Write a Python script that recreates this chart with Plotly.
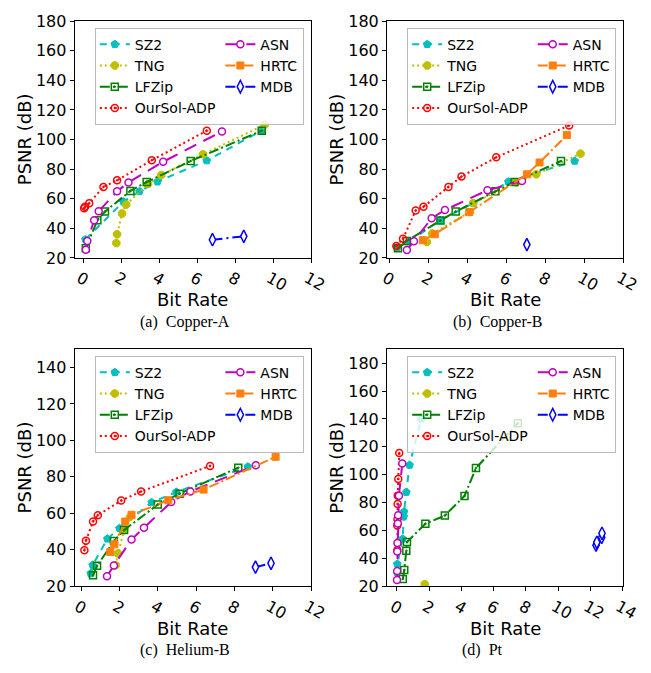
import plotly.graph_objects as go

# The page body has an 8px default margin, so the figure is drawn 8px in.
OFF = 8
W, H = 651 - OFF, 673 - OFF

# ---------------- data ----------------
# (a) Copper-A
a_sz2_x = [0.1, 2.1, 2.95, 3.9, 6.5, 9.4]
a_sz2_y = [32.5, 58, 65, 71.5, 85.8, 106]
a_tng_x = [1.73, 1.77, 2.03, 2.25, 3.4, 4.1, 6.3, 9.55]
a_tng_y = [30, 36, 50, 56, 70, 76, 90, 110]
a_lfz_x = [0.12, 0.73, 1.13, 2.47, 3.33, 5.65, 9.4]
a_lfz_y = [26.5, 45.5, 51.3, 65.3, 71.3, 85.5, 106]
a_our_x = [0.03, 0.08, 0.3, 1.05, 1.77, 3.6, 6.5]
a_our_y = [53.5, 54.5, 57, 68, 72.5, 86, 106]
a_asn_x = [0.12, 0.2, 0.56, 0.8, 1.77, 2.37, 4.2, 7.3]
a_asn_y = [25.5, 31.5, 45.5, 51.5, 65, 71, 85, 105.5]
a_hrtc_x = []
a_hrtc_y = []
a_mdb_x = [6.8, 8.45]
a_mdb_y = [32.3, 34.6]

# (b) Copper-B
b_sz2_x = [0.4, 1.0, 2.6, 4.3, 6.1, 9.5]
b_sz2_y = [27, 31, 45.5, 57, 71.5, 85.5]
b_tng_x = [1.92, 2.2, 4.13, 4.3, 6.5, 7.53, 9.8]
b_tng_y = [30.8, 36.5, 51, 57, 71, 76.5, 90.5]
b_lfz_x = [0.44, 0.9, 2.62, 3.4, 5.44, 6.42, 8.8]
b_lfz_y = [26.5, 31.5, 45.3, 51.3, 65, 71.3, 85.5]
b_our_x = [0.36, 0.7, 1.35, 1.75, 3.03, 3.7, 5.48, 9.22]
b_our_y = [28, 33, 52, 54.5, 68, 75, 88, 109.5]
b_asn_x = [0.9, 1.26, 2.17, 2.85, 5.03, 6.8]
b_asn_y = [25.3, 31.3, 46.8, 52.4, 65.7, 72]
b_hrtc_x = [1.72, 2.33, 4.1, 7.05, 7.7, 9.1]
b_hrtc_y = [32, 36, 51, 76.5, 84.5, 103]
b_mdb_x = [7.05]
b_mdb_y = [29]

# (c) Helium-B
c_sz2_x = [0.5, 0.6, 1.37, 2.0, 3.68, 4.97, 8.7]
c_sz2_y = [27, 31.6, 46, 51.8, 66, 71.7, 85.6]
c_tng_x = [1.8, 1.92, 2.25, 2.55]
c_tng_y = [31.5, 38, 51, 58]
c_lfz_x = [0.62, 0.83, 1.71, 2.24, 4.0, 5.14, 8.2]
c_lfz_y = [26, 31.2, 44.8, 50.8, 64.8, 70.8, 85]
c_our_x = [0.17, 0.25, 0.62, 0.87, 2.09, 3.13, 6.73]
c_our_y = [39.7, 45, 55.5, 59, 67, 72, 86]
c_asn_x = [1.35, 1.71, 2.63, 3.28, 4.7, 5.7, 9.12]
c_asn_y = [25.5, 31.4, 45.6, 52.1, 66.2, 72, 86.3]
c_hrtc_x = [1.52, 1.73, 2.3, 2.63, 4.55, 6.39, 10.15]
c_hrtc_y = [38.8, 43, 55.5, 59.2, 67.2, 73, 91]
c_mdb_x = [9.1, 9.91]
c_mdb_y = [30.5, 32.6]

# (d) Pt
d_sz2_x = [0.0, 0.02, 0.35, 0.42, 0.44, 0.58, 0.78, 1.5]
d_sz2_y = [30, 36, 54, 70, 73.5, 87.5, 107, 140]
d_tng_x = [1.72]
d_tng_y = [21.5]
d_lfz_x = [0.36, 0.45, 0.58, 0.62, 1.76, 2.97, 4.19, 4.9, 7.5]
d_lfz_y = [25.2, 31.6, 45.5, 51.8, 64.8, 70.7, 84.8, 104.8, 137]
d_our_x = [0.02, 0.02, 0.03, 0.04, 0.05, 0.08, 0.14]
d_our_y = [46, 63.5, 68, 79, 85, 97, 115.5]
d_asn_x = [0.0, 0.01, 0.02, 0.03, 0.05, 0.07, 0.12, 0.33]
d_asn_y = [24.5, 31, 45, 51, 65, 71, 85, 108]
d_hrtc_x = []
d_hrtc_y = []
d_mdb_x = [12.35, 12.4, 12.7, 12.72]
d_mdb_y = [49.5, 51.5, 55, 58]

method_names = ["SZ2", "TNG", "LFZip", "OurSol-ADP", "ASN", "HRTC", "MDB"]
captions = ["(a)\u00a0 Copper-A", "(b)\u00a0 Copper-B", "(c)\u00a0 Helium-B", "(d)\u00a0 Pt"]
x_tick_vals = [[0, 2, 4, 6, 8, 10, 12]] * 3 + [[0, 2, 4, 6, 8, 10, 12, 14]]
y_tick_vals = [list(range(20, 181, 20)), list(range(20, 181, 20)),
               list(range(20, 141, 20)), list(range(20, 181, 20))]
x_ranges = [[-0.47, 12], [-0.12, 12], [-0.34, 12], [-0.62, 14.05]]
y_ranges = [[20, 180], [20, 180], [20, 150], [20, 190]]

panel_data = [
    [(a_sz2_x, a_sz2_y), (a_tng_x, a_tng_y), (a_lfz_x, a_lfz_y), (a_our_x, a_our_y),
     (a_asn_x, a_asn_y), (a_hrtc_x, a_hrtc_y), (a_mdb_x, a_mdb_y)],
    [(b_sz2_x, b_sz2_y), (b_tng_x, b_tng_y), (b_lfz_x, b_lfz_y), (b_our_x, b_our_y),
     (b_asn_x, b_asn_y), (b_hrtc_x, b_hrtc_y), (b_mdb_x, b_mdb_y)],
    [(c_sz2_x, c_sz2_y), (c_tng_x, c_tng_y), (c_lfz_x, c_lfz_y), (c_our_x, c_our_y),
     (c_asn_x, c_asn_y), (c_hrtc_x, c_hrtc_y), (c_mdb_x, c_mdb_y)],
    [(d_sz2_x, d_sz2_y), (d_tng_x, d_tng_y), (d_lfz_x, d_lfz_y), (d_our_x, d_our_y),
     (d_asn_x, d_asn_y), (d_hrtc_x, d_hrtc_y), (d_mdb_x, d_mdb_y)],
]

# ---------------- styles ----------------
styles = {
    "SZ2": dict(color="#00BFBF", dash="7px,6px", symbol="pentagon", size=8,
                fill="#00BFBF", mlw=1),
    "TNG": dict(color="#BFBF00", dash="2px,3px", symbol="octagon", size=8,
                fill="#BFBF00", mlw=1),
    "LFZip": dict(color="#008000", dash="10px,3px,2px,3px", symbol="square-open-dot",
                  size=7, fill="#008000", mlw=1.5),
    "OurSol-ADP": dict(color="#FF0000", dash="2px,3px", symbol="circle-open-dot",
                       size=7, fill="#FF0000", mlw=1.5),
    "ASN": dict(color="#BF00BF", dash="13px,8px", symbol="circle", size=7,
                fill="white", mlw=1.5),
    "HRTC": dict(color="#FF7F0E", dash="10px,3px,2px,3px", symbol="square", size=7,
                 fill="#FF7F0E", mlw=1),
    "MDB": dict(color="#0000FF", dash="10px,4px,2px,4px", symbol="diamond-tall",
                size=9, fill="white", mlw=1.5),
}

SANS = "DejaVu Sans"
SERIF = "Liberation Serif"

# plot-area boxes in screen pixels: (left, top, right, bottom)
boxes = [(69, 12.3, 315, 256), (394, 12.3, 640, 256),
         (69, 350, 315, 594), (394, 350, 640, 594)]


def px(x):
    return (x - OFF) / W


def py(y):
    return 1 - (y - OFF) / H


fig = go.Figure()
layout = dict(width=W, height=H, margin=dict(l=0, r=0, t=0, b=0),
              paper_bgcolor="white", plot_bgcolor="white",
              font=dict(family=SANS, size=16, color="black"),
              annotations=[])

for i in range(4):
    sfx = "" if i == 0 else str(i + 1)
    xa, ya = "x" + sfx, "y" + sfx
    l, t, r, b = boxes[i]
    leg = "legend" + sfx
    for j, name in enumerate(method_names):
        xs, ys = panel_data[i][j]
        st = styles[name]
        fig.add_trace(go.Scatter(
            x=xs if xs else [None], y=ys if ys else [None],
            mode="lines+markers", name=name,
            xaxis=xa, yaxis=ya, legend=leg,
            legendgroup=f"p{i}c{1 if j < 4 else 2}",
            line=dict(color=st["color"], width=2, dash=st["dash"]),
            marker=dict(symbol=st["symbol"], size=st["size"], color=st["fill"],
                        line=dict(color=st["color"], width=st["mlw"])),
        ))
    axcommon = dict(showline=True, linecolor="black", linewidth=1, mirror=True,
                    ticks="outside", ticklen=4, tickcolor="black", showgrid=False,
                    zeroline=False, ticklabeloverflow="allow",
                    tickfont=dict(family=SANS, size=16, color="black"))
    layout["xaxis" + sfx] = dict(axcommon, domain=[px(l), px(r)], anchor=ya,
                                 range=x_ranges[i], tickvals=x_tick_vals[i],
                                 tickangle=30, ticklabelshift=-4)
    layout["yaxis" + sfx] = dict(axcommon, domain=[py(b), py(t)], anchor=xa,
                                 range=y_ranges[i], tickvals=y_tick_vals[i])
    # two-column legend: horizontal + grouped puts each group in its own column
    layout[leg] = dict(bgcolor="rgba(255,255,255,0.8)", bordercolor="#BBBBBB",
                       borderwidth=1, orientation="h", traceorder="grouped",
                       tracegroupgap=0, itemwidth=30,
                       font=dict(family=SANS, size=14, color="black"),
                       xanchor="left", yanchor="top",
                       x=px(l + 21), y=py(t + 6.7))
    # axis titles and captions
    cx = (l + r) / 2
    layout["annotations"].append(dict(text="Bit Rate", x=px(cx), y=py(b + 43),
                                      xref="paper", yref="paper", showarrow=False,
                                      font=dict(family=SANS, size=18),
                                      xanchor="center", yanchor="middle"))
    layout["annotations"].append(dict(text="PSNR (dB)", x=px(l - 52), y=py((t + b) / 2),
                                      xref="paper", yref="paper", showarrow=False,
                                      textangle=-90, font=dict(family=SANS, size=18),
                                      xanchor="center", yanchor="middle"))
    capx = [183.5, 508.5, 183.5, 493][i]
    layout["annotations"].append(dict(text=captions[i], x=px(capx), y=py(b + 66),
                                      xref="paper", yref="paper", showarrow=False,
                                      font=dict(family=SERIF, size=16),
                                      xanchor="center", yanchor="middle"))

fig.update_layout(**layout)
fig.write_html("out.html")
